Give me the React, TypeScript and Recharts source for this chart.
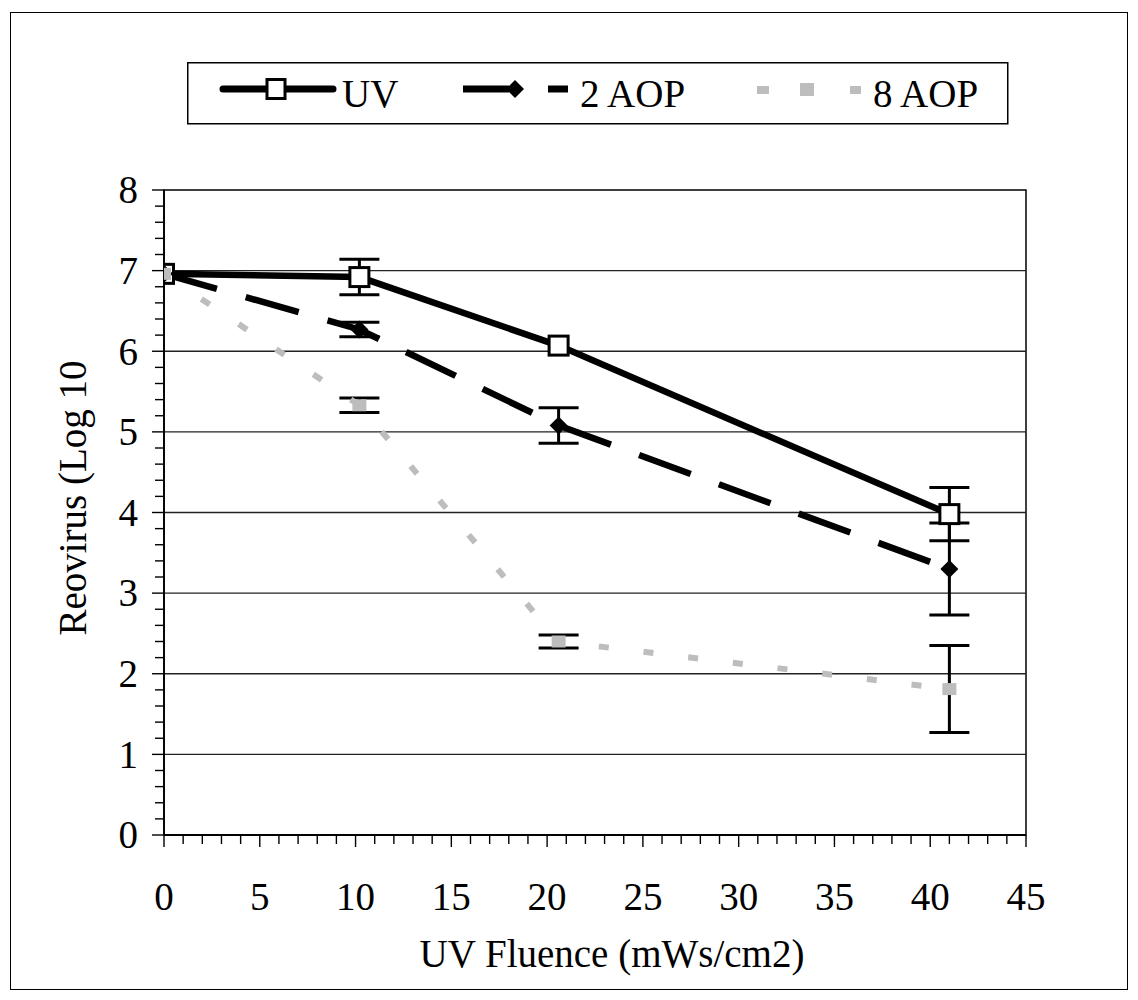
import { LineChart, Line, XAxis, YAxis, ErrorBar, ReferenceLine, ReferenceArea } from 'recharts';

// UV fluence (mWs/cm2) and log10 reovirus titres
const fluence = [0, 10.2, 20.6, 41];
const uvLog = [6.96, 6.92, 6.07, 3.98];
const uvErr = [null, 0.22, null, 0.33];
const aop2Log = [6.96, 6.27, 5.08, 3.3];
const aop2Err = [null, 0.09, 0.22, 0.57];
const aop8Log = [6.96, 5.33, 2.4, 1.81];
const aop8Err = [null, 0.09, 0.08, 0.54];

const xMajor = [0, 5, 10, 15, 20, 25, 30, 35, 40, 45];
const yMajor = [0, 1, 2, 3, 4, 5, 6, 7, 8];
const gridLines = [1, 2, 3, 4, 5, 6, 7];
const xTicks = Array.from({ length: 46 }, (_, i) => i);
const yTicks = Array.from({ length: 41 }, (_, i) => Math.round(i * 2) / 10);

const rows = fluence.map((f, i) => ({
  fluence: f,
  uv: uvLog[i],
  uvErr: uvErr[i],
  aop2: aop2Log[i],
  aop2Err: aop2Err[i],
  aop8: aop8Log[i],
  aop8Err: aop8Err[i],
}));

const FONT = "'Liberation Serif', 'DejaVu Serif', serif";
const GREY = '#bdbdbd';

const isMajor = (v: number, list: number[]) => list.some((m) => Math.abs(m - v) < 1e-6);

function XTick({ x, y, payload }: any) {
  const major = isMajor(payload.value, xMajor);
  return (
    <g>
      <line x1={x} y1={y} x2={x} y2={y + (major ? 12 : 9)} stroke="#000" strokeWidth={1.4} />
      {major && (
        <text x={x} y={y + 75} textAnchor="middle" fontFamily={FONT} fontSize={39} fill="#000">
          {payload.value}
        </text>
      )}
    </g>
  );
}

function YTick({ x, y, payload }: any) {
  const major = isMajor(payload.value, yMajor);
  return (
    <g>
      <line x1={x - (major ? 12 : 9)} y1={y} x2={x} y2={y} stroke="#000" strokeWidth={1.4} />
      {major && (
        <text x={x - 26} y={y} dy="0.34em" textAnchor="end" fontFamily={FONT} fontSize={39} fill="#000">
          {Math.round(payload.value)}
        </text>
      )}
    </g>
  );
}

const squareDot = (p: any) => {
  if (p.cx == null || p.cy == null) return <g key={p.index} />;
  return <rect key={p.index} x={p.cx - 9.5} y={p.cy - 9.5} width={19} height={19} fill="#fff" stroke="#000" strokeWidth={3} />;
};

const diamondDot = (p: any) => {
  if (p.cx == null || p.cy == null) return <g key={p.index} />;
  const r = 9;
  return (
    <path
      key={p.index}
      d={`M${p.cx},${p.cy - r}L${p.cx + r},${p.cy}L${p.cx},${p.cy + r}L${p.cx - r},${p.cy}Z`}
      fill="#000"
    />
  );
};

const greyDot = (p: any) => {
  if (p.cx == null || p.cy == null) return <g key={p.index} />;
  return <rect key={p.index} x={p.cx - 7} y={p.cy - 6} width={14} height={12} fill={GREY} />;
};

function LegendBox() {
  return (
    <svg width={822} height={63} style={{ position: 'absolute', left: 187, top: 62 }}>
      <rect x={0.75} y={0.75} width={820} height={61} fill="#fff" stroke="#000" strokeWidth={1.5} />
      <line x1={36} y1={27} x2={146} y2={27} stroke="#000" strokeWidth={7} strokeLinecap="round" />
      <rect x={80} y={17.5} width={18} height={19} fill="#fff" stroke="#000" strokeWidth={3} />
      <text x={155} y={45} fontFamily={FONT} fontSize={39}>UV</text>
      <line x1={276} y1={27} x2={322} y2={27} stroke="#000" strokeWidth={7} />
      <path d="M328,18L337,27L328,36L319,27Z" fill="#000" />
      <line x1={361} y1={27} x2={381} y2={27} stroke="#000" strokeWidth={7} />
      <text x={393} y={45} fontFamily={FONT} fontSize={39}>2 AOP</text>
      <rect x={570} y={24} width={12} height={8} fill={GREY} />
      <rect x={613} y={21} width={14} height={13} fill={GREY} />
      <rect x={663} y={24} width={11} height={8} fill={GREY} />
      <text x={686} y={45} fontFamily={FONT} fontSize={39}>8 AOP</text>
    </svg>
  );
}

function Titles() {
  return (
    <svg width={1138} height={1000} style={{ position: 'absolute', left: 0, top: 0, pointerEvents: 'none' }}>
      <text x={86} y={498} transform="rotate(-90, 86, 498)" textAnchor="middle" fontFamily={FONT} fontSize={39}>
        Reovirus (Log 10
      </text>
      <text x={612} y={967} textAnchor="middle" fontFamily={FONT} fontSize={39}>
        UV Fluence (mWs/cm2)
      </text>
    </svg>
  );
}

export default function App() {
  return (
    <div style={{ position: 'absolute', left: 0, top: 0, width: 1138, height: 1000, background: '#fff', fontFamily: FONT }}>
      <div
        style={{
          position: 'absolute',
          left: 10,
          top: 12,
          width: 1118,
          height: 978,
          border: '1.5px solid #000',
          boxSizing: 'border-box',
        }}
      />
      <div style={{ position: 'absolute', left: 0, top: 0 }}>
        <LineChart width={1138} height={1000} data={rows} margin={{ top: 190, right: 112, bottom: 0, left: 0 }}>
          <XAxis
            dataKey="fluence"
            type="number"
            domain={[0, 45]}
            ticks={xTicks}
            interval={0}
            allowDataOverflow
            height={165}
            tickSize={0}
            tickMargin={0}
            tick={<XTick />}
            axisLine={{ stroke: '#000', strokeWidth: 1.8 }}
          />
          <YAxis
            type="number"
            domain={[0, 8]}
            ticks={yTicks}
            interval={0}
            allowDataOverflow
            width={164}
            tickSize={0}
            tickMargin={0}
            tick={<YTick />}
            axisLine={{ stroke: '#000', strokeWidth: 1.8 }}
          />
          {gridLines.map((g) => (
            <ReferenceLine key={g} y={g} stroke="#222" strokeWidth={1.3} />
          ))}
          <ReferenceArea x1={0} x2={45} y1={0} y2={8} fill="none" fillOpacity={0} stroke="#000" strokeWidth={1.5} />
          <Line
            dataKey="uv"
            stroke="#000"
            strokeWidth={6.5}
            dot={squareDot}
            activeDot={false}
            isAnimationActive={false}
          >
            <ErrorBar dataKey="uvErr" width={20} stroke="#000" strokeWidth={3} />
          </Line>
          <Line
            dataKey="aop2"
            stroke="#000"
            strokeWidth={6.5}
            strokeDasharray="55 30"
            dot={diamondDot}
            activeDot={false}
            isAnimationActive={false}
          >
            <ErrorBar dataKey="aop2Err" width={20} stroke="#000" strokeWidth={3} />
          </Line>
          <Line
            dataKey="aop8"
            stroke={GREY}
            strokeWidth={6}
            strokeDasharray="10 35"
            dot={greyDot}
            activeDot={false}
            isAnimationActive={false}
          >
            <ErrorBar dataKey="aop8Err" width={20} stroke="#000" strokeWidth={3} />
          </Line>
        </LineChart>
      </div>
      <LegendBox />
      <Titles />
    </div>
  );
}
